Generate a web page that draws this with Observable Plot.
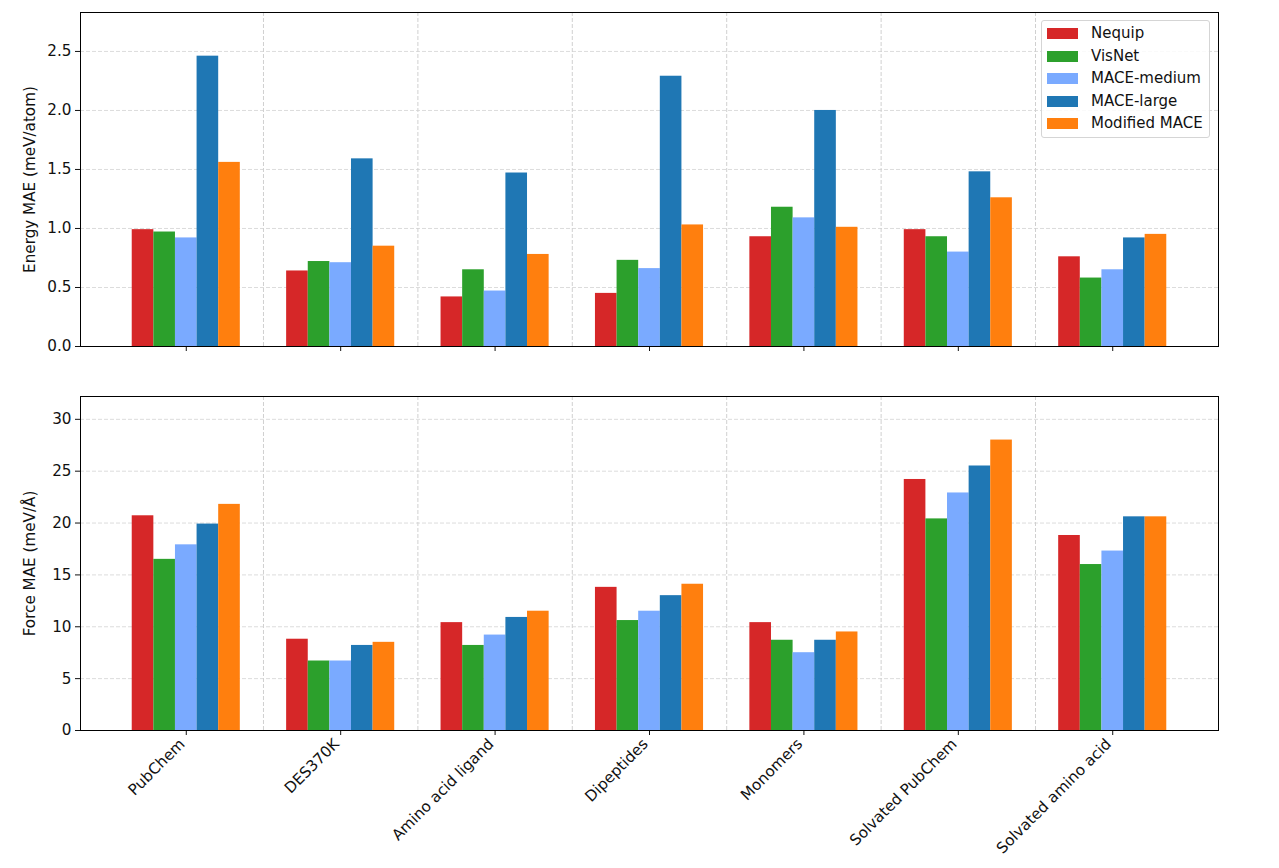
<!DOCTYPE html>
<html>
<head>
<meta charset="utf-8">
<script src="https://cdn.jsdelivr.net/npm/d3@7"></script>
<script src="https://cdn.jsdelivr.net/npm/@observablehq/plot@0.6"></script>
<style>
  body { margin: 0; background: white; }
  #wrap { position: relative; width: 1279px; height: 868px; font-family: "DejaVu Sans", sans-serif; }
  #legend { position: absolute; left: 1041px; top: 20px; width: 167px; height: 116px;
            border: 1px solid #d5d5d5; border-radius: 3px; background: rgba(255,255,255,0.85); }
  .lrow { position: absolute; left: 0; height: 22px; width: 100%; }
  .sw { position: absolute; left: 5px; top: 6px; width: 31px; height: 11px; }
  .lt { position: absolute; left: 49px; top: 2px; font-size: 15px; color: #111; white-space: nowrap; line-height: 18px; }
</style>
</head>
<body>
<div id="wrap">
  <div id="top"></div>
  <div id="bottom"></div>
  <div id="legend"></div>
</div>
<script>
const categories = ["PubChem", "DES370K", "Amino acid ligand", "Dipeptides", "Monomers", "Solvated PubChem", "Solvated amino acid"];
const models = ["Nequip", "VisNet", "MACE-medium", "MACE-large", "Modified MACE"];
const colors = ["#d62728", "#2ca02c", "#7aaaff", "#1f77b4", "#ff7f0e"];

// Energy MAE (meV/atom)
const energyNequip   = [0.99, 0.64, 0.42, 0.45, 0.93, 0.99, 0.76];
const energyVisNet   = [0.97, 0.72, 0.65, 0.73, 1.18, 0.93, 0.58];
const energyMedium   = [0.92, 0.71, 0.47, 0.66, 1.09, 0.80, 0.65];
const energyLarge    = [2.46, 1.59, 1.47, 2.29, 2.00, 1.48, 0.92];
const energyModified = [1.56, 0.85, 0.78, 1.03, 1.01, 1.26, 0.95];

// Force MAE (meV/Å)
const forceNequip   = [20.7, 8.8, 10.4, 13.8, 10.4, 24.2, 18.8];
const forceVisNet   = [16.5, 6.7, 8.2, 10.6, 8.7, 20.4, 16.0];
const forceMedium   = [17.9, 6.7, 9.2, 11.5, 7.5, 22.9, 17.3];
const forceLarge    = [19.9, 8.2, 10.9, 13.0, 8.7, 25.5, 20.6];
const forceModified = [21.8, 8.5, 11.5, 14.1, 9.5, 28.0, 20.6];

const energyTicks = [0, 0.5, 1.0, 1.5, 2.0, 2.5];
const forceTicks = [0, 5, 10, 15, 20, 25, 30];

const energySeries = [energyNequip, energyVisNet, energyMedium, energyLarge, energyModified];
const forceSeries = [forceNequip, forceVisNet, forceMedium, forceLarge, forceModified];

const barW = 0.14;
function rows(series) {
  const out = [];
  series.forEach((vals, k) => vals.forEach((v, i) => out.push({cat: categories[i], i, model: models[k], k, value: v})));
  return out;
}
const catIdx = categories.map((_, i) => i);
const boundaries = categories.slice(1).map((_, i) => i + 0.5);
const xDomain = [-0.685, categories.length - 1 + 0.685];
const FS = 15.2;

function panel({data, yDomain, yTicks, yFormat, yLabel, height, marginTop, marginBottom, showLabels}) {
  const marks = [
    Plot.ruleY(yTicks.slice(1), {stroke: "#dcdcdc", strokeDasharray: "4,2", strokeWidth: 1}),
    Plot.ruleX(boundaries, {stroke: "#d0d0d0", strokeDasharray: "4,2", strokeWidth: 1}),
    Plot.rect(data, {
      x1: d => d.i + (d.k - 2.5) * barW,
      x2: d => d.i + (d.k - 1.5) * barW,
      y1: 0,
      y2: "value",
      fill: "model"
    }),
    Plot.axisY({ticks: yTicks, tickFormat: yFormat, tickSize: 5, tickPadding: 4, label: yLabel,
                fontSize: FS, labelAnchor: "center", labelOffset: 56, labelArrow: false}),
    Plot.axisX({ticks: catIdx, tickSize: 5, label: null, tickFormat: () => ""}),
    Plot.frame({stroke: "black", strokeWidth: 1})
  ];
  if (showLabels) {
    marks.push(Plot.axisX({ticks: catIdx, tickSize: 0, tickPadding: 11, label: null, fontSize: FS,
                           tickFormat: i => categories[i], tickRotate: -45, dx: -4}));
  }
  return Plot.plot({
    width: 1279,
    height,
    marginLeft: 80,
    marginRight: 61,
    marginTop,
    marginBottom,
    style: {fontSize: FS + "px", fontFamily: "DejaVu Sans, sans-serif", color: "#111", background: "white"},
    x: {type: "linear", domain: xDomain},
    y: {domain: yDomain},
    color: {domain: models, range: colors},
    marks
  });
}

document.getElementById("top").appendChild(panel({
  data: rows(energySeries), yDomain: [0, 2.83], yTicks: energyTicks, yFormat: ".1f",
  yLabel: "Energy MAE (meV/atom)", height: 380, marginTop: 12, marginBottom: 34, showLabels: false
}));
document.getElementById("bottom").appendChild(panel({
  data: rows(forceSeries), yDomain: [0, 32.2], yTicks: forceTicks, yFormat: "d",
  yLabel: "Force MAE (meV/Å)", height: 488, marginTop: 16, marginBottom: 138, showLabels: true
}));

const legend = document.getElementById("legend");
models.forEach((m, k) => {
  const row = document.createElement("div");
  row.className = "lrow";
  row.style.top = (1 + k * 22.6) + "px";
  row.innerHTML = `<div class="sw" style="background:${colors[k]}"></div><div class="lt">${m}</div>`;
  legend.appendChild(row);
});
</script>
</body>
</html>
